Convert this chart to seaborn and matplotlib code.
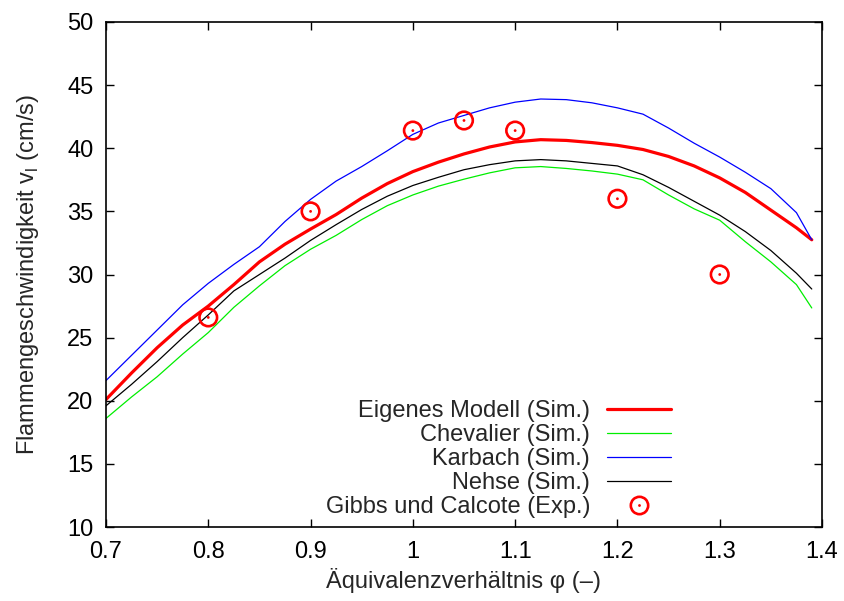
import numpy as np
import pandas as pd
import matplotlib
matplotlib.use("Agg")
import matplotlib.pyplot as plt
from matplotlib.lines import Line2D
import seaborn as sns

phi = [0.70, 0.725, 0.75, 0.775, 0.80, 0.825, 0.85, 0.875, 0.90, 0.925, 0.95, 0.975,
       1.00, 1.025, 1.05, 1.075, 1.10, 1.125, 1.15, 1.175, 1.20, 1.225, 1.25, 1.275,
       1.30, 1.325, 1.35, 1.375, 1.39]

eigenes = [20.1, 22.2, 24.2, 26.0, 27.5, 29.2, 31.0, 32.4, 33.6, 34.75, 36.05, 37.2,
           38.15, 38.9, 39.55, 40.1, 40.5, 40.68, 40.62, 40.45, 40.23, 39.9, 39.35, 38.6,
           37.65, 36.5, 35.1, 33.7, 32.75]
chevalier = [18.6, 20.3, 21.9, 23.7, 25.4, 27.4, 29.1, 30.7, 32.0, 33.1, 34.35, 35.45,
             36.3, 37.0, 37.55, 38.05, 38.45, 38.55, 38.4, 38.2, 37.95, 37.5, 36.3, 35.2,
             34.3, 32.6, 31.0, 29.2, 27.35]
karbach = [21.6, 23.6, 25.6, 27.6, 29.3, 30.8, 32.2, 34.2, 35.95, 37.4, 38.55, 39.8,
           41.1, 42.0, 42.6, 43.2, 43.65, 43.9, 43.85, 43.6, 43.2, 42.7, 41.6, 40.4,
           39.3, 38.1, 36.8, 34.9, 32.75]
nehse = [19.6, 21.3, 23.1, 25.0, 26.8, 28.7, 30.0, 31.3, 32.7, 33.95, 35.15, 36.2,
         37.05, 37.7, 38.3, 38.7, 39.0, 39.1, 39.0, 38.8, 38.6, 37.9, 36.9, 35.8,
         34.7, 33.4, 31.9, 30.1, 28.85]

exp_phi = [0.8, 0.9, 1.0, 1.05, 1.1, 1.2, 1.3]
exp_v = [26.6, 35.0, 41.4, 42.2, 41.4, 36.0, 30.0]

labels = ["Eigenes Modell (Sim.)", "Chevalier (Sim.)", "Karbach (Sim.)", "Nehse (Sim.)",
          "Gibbs und Calcote (Exp.)"]
xticks = [0.7, 0.8, 0.9, 1.0, 1.1, 1.2, 1.3, 1.4]
xticklabels = ["0.7", "0.8", "0.9", "1", "1.1", "1.2", "1.3", "1.4"]
yticks = [10, 15, 20, 25, 30, 35, 40, 45, 50]

sns.set_style("ticks")
plt.rcParams["font.family"] = ["Liberation Sans", "DejaVu Sans"]
plt.rcParams["mathtext.fontset"] = "custom"
plt.rcParams["mathtext.rm"] = "Liberation Sans"

FS = 17
fig = plt.figure(figsize=(8.45, 6.01), dpi=100)
ax = fig.add_axes([106/845, 1 - 527/601, (822 - 106)/845, (527 - 22)/601])

series = [(eigenes, "#ff0000", 2.3), (chevalier, "#00ee00", 0.9),
          (karbach, "#0000ff", 0.9), (nehse, "#000000", 0.9)]
handles = []
for (vals, col, lw), lab in zip(series, labels[:4]):
    df = pd.DataFrame({"phi": phi, "v": vals})
    sns.lineplot(data=df, x="phi", y="v", color=col, linewidth=lw, ax=ax,
                 estimator=None, sort=False)
    handles.append(Line2D([], [], color=col, linewidth=lw))

dfe = pd.DataFrame({"phi": exp_phi, "v": exp_v})
sns.scatterplot(data=dfe, x="phi", y="v", marker="o", s=160, facecolors="none",
                edgecolor="#ff0000", linewidth=1.9, ax=ax, zorder=5)
sns.scatterplot(data=dfe, x="phi", y="v", marker="o", s=4, color="#ff0000",
                edgecolor="none", ax=ax, zorder=6)
h_circ = Line2D([], [], linestyle="none", marker="o", markersize=12.5,
                markerfacecolor="none", markeredgecolor="#ff0000", markeredgewidth=1.9)
h_dot = Line2D([], [], linestyle="none", marker="o", markersize=2,
               markerfacecolor="#ff0000", markeredgecolor="none")
handles.append((h_circ, h_dot))

ax.set_xlim(0.7, 1.4)
ax.set_ylim(10, 50)
ax.set_xticks(xticks)
ax.set_xticklabels(xticklabels)
ax.set_yticks(yticks)
ax.tick_params(direction="in", length=6, width=1, top=True, right=True,
               labelsize=FS, colors="black")
ax.tick_params(axis="x", pad=10)
ax.tick_params(axis="y", pad=9)
for sp in ax.spines.values():
    sp.set_visible(True)
    sp.set_linewidth(1.2)
    sp.set_color("black")

ax.set_xlabel("Äquivalenzverhältnis φ (–)", fontsize=FS, labelpad=4)
ax.set_ylabel("Flammengeschwindigkeit v$_{\\mathregular{l}}$ (cm/s)", fontsize=FS,
              labelpad=19)

leg = ax.legend(handles, labels, loc="lower right", bbox_to_anchor=(0.789, 0.018),
                markerfirst=False, frameon=False, fontsize=FS, handlelength=2.7,
                handletextpad=0.72, labelspacing=0.08, borderaxespad=0.0, borderpad=0.0)

fig.savefig("out.png", dpi=100)
